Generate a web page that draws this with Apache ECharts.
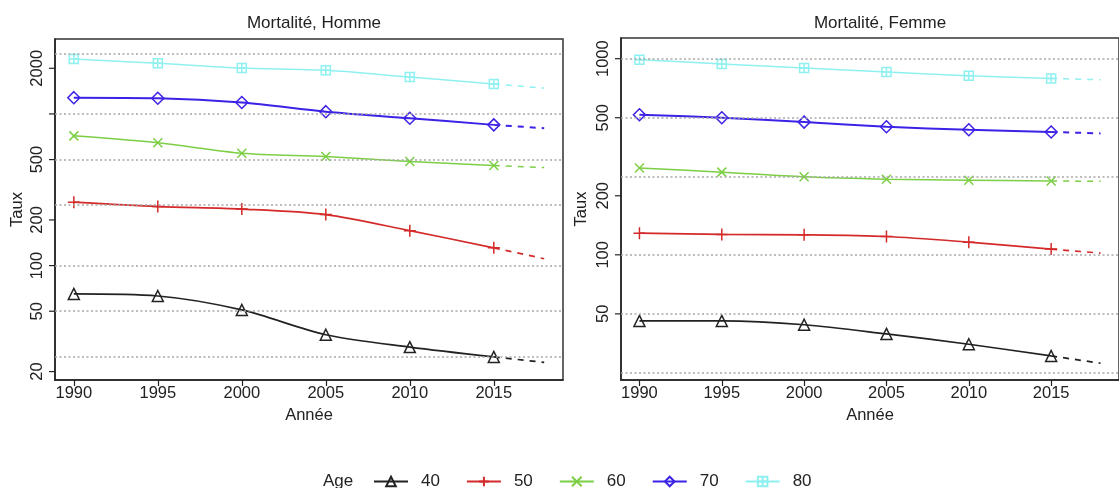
<!DOCTYPE html>
<html>
<head>
<meta charset="utf-8">
<script src="https://cdn.jsdelivr.net/npm/echarts@6/dist/echarts.min.js"></script>
<style>
html, body { margin: 0; padding: 0; background: #fff; }
#chart { width: 1119px; height: 488px; }
</style>
</head>
<body>
<div id="chart"></div>
<script>
// Observed years and the projection horizon
const years = [1990, 1995, 2000, 2005, 2010, 2015];
const projYear = 2018;
const ages = ['40', '50', '60', '70', '80'];

// Mortality rates, men (per age group)
const homme40 = [65, 63, 51, 35, 29, 25];
const homme50 = [262, 245, 236, 217, 170, 131];
const homme60 = [717, 645, 551, 524, 486, 457];
const homme70 = [1280, 1270, 1190, 1035, 937, 847];
const homme80 = [2300, 2160, 2010, 1940, 1750, 1575];
// Projected rates in 2018, men (ages 40..80)
const hommeProj = [23, 111, 443, 805, 1480];

// Mortality rates, women
const femme40 = [46, 46, 44, 39.5, 35, 30.5];
const femme50 = [129, 127, 126.5, 124, 116, 107];
const femme60 = [277, 264, 250, 243, 240, 238];
const femme70 = [518, 500, 475, 450, 434, 423];
const femme80 = [989, 940, 897, 855, 819, 793];
// Projected rates in 2018, women
const femmeProj = [28, 102, 237, 416, 781];

// Y-axis tick values and labels (log scale)
const hommeTicks = [20, 50, 100, 200, 500, 1000, 2000];
const hommeTickLabels = ['20', '50', '100', '200', '500', '', '2000'];
const femmeTicks = [50, 100, 200, 500, 1000];
const femmeTickLabels = ['50', '100', '200', '500', '1000'];

// Dotted reference levels
const refLevels = [25, 50, 100, 250, 500, 1000, 2500];

// Axis extents
const X_MIN = 1988.88, X_MAX = 2019.12;
const hommeRange = [17.6, 3120];
const femmeRange = [23.0, 1275];

const FONT = 'Liberation Sans, Arial, Helvetica, sans-serif';
const INK = '#222';
const colors = ['#222222', '#d42a2a', '#7ccf44', '#3b22e6', '#8ff0f0'];
const symbols = [
  'path://M5,0L10,9L0,9Z',
  'path://M5,0L5,10M0,5L10,5',
  'path://M0,0L10,10M0,10L10,0',
  'path://M5,0L10,5L5,10L0,5Z',
  'path://M0,0L10,0L10,10L0,10ZM5,0L5,10M0,5L10,5'
];
const symbolSizes = [11, 12, 9, 12, 9];
const lineWidths = [1.7, 1.7, 1.5, 2, 1.5];

const hommeSeries = [homme40, homme50, homme60, homme70, homme80];
const femmeSeries = [femme40, femme50, femme60, femme70, femme80];

function panelSeries(valuesList, proj, gi, range) {
  const out = [];
  valuesList.forEach((vals, k) => {
    const s = {
      name: ages[k], type: 'line', xAxisIndex: gi, yAxisIndex: gi,
      data: years.map((y, i) => [y, vals[i]]),
      smooth: 0.3,
      symbol: symbols[k], symbolSize: symbolSizes[k],
      lineStyle: { color: colors[k], width: lineWidths[k] },
      itemStyle: { color: 'transparent', borderColor: colors[k], borderWidth: 1.5 },
      z: 3
    };
    if (k === 0) {
      s.markLine = {
        silent: true, symbol: 'none', label: { show: false },
        lineStyle: { color: '#a8a8a8', type: [2, 2.5], width: 1.5 },
        emphasis: { disabled: true },
        data: refLevels.filter(v => v >= range[0] && v <= range[1]).map(v => ({ yAxis: v }))
      };
    }
    out.push(s);
    out.push({
      name: ages[k], type: 'line', xAxisIndex: gi, yAxisIndex: gi,
      data: [[years[years.length - 1], vals[vals.length - 1]], [projYear, proj[k]]],
      symbol: 'none',
      lineStyle: { color: colors[k], width: lineWidths[k], type: [6, 6] },
      z: 3
    });
  });
  return out;
}

function tickSeries(ticks, labels, gi) {
  return {
    type: 'custom', xAxisIndex: gi, yAxisIndex: gi, silent: true, z: 10, clip: false,
    data: ticks.map((v, i) => [X_MIN, v, i]),
    encode: { x: 0, y: 1 },
    renderItem: function (params, api) {
      const p = api.coord([api.value(0), api.value(1)]);
      const label = labels[api.value(2)];
      return {
        type: 'group',
        children: [
          { type: 'line', shape: { x1: p[0] - 6, y1: p[1], x2: p[0], y2: p[1] },
            style: { stroke: INK, lineWidth: 1.2 } },
          { type: 'text', x: p[0] - 9, y: p[1], rotation: Math.PI / 2,
            style: { text: label, fill: INK, fontSize: 16.5, fontFamily: FONT,
                     align: 'center', verticalAlign: 'bottom' } }
        ]
      };
    }
  };
}

function xAxis(gi) {
  return {
    type: 'value', gridIndex: gi, min: X_MIN, max: X_MAX,
    axisLine: { show: true, lineStyle: { color: INK, width: 1.5 } },
    axisTick: { show: true, length: 6, customValues: years, lineStyle: { color: INK, width: 1.2 } },
    axisLabel: { customValues: years, margin: 5, fontSize: 16.5, color: INK, fontFamily: FONT,
                 formatter: v => String(v) },
    splitLine: { show: false },
    name: 'Année', nameLocation: 'middle', nameGap: 22,
    nameTextStyle: { fontSize: 16.5, color: INK, fontFamily: FONT }
  };
}

function yAxis(gi, range, gap) {
  return {
    type: 'log', logBase: 10, gridIndex: gi, min: range[0], max: range[1],
    axisLine: { show: true, lineStyle: { color: INK, width: 1.5 } },
    axisTick: { show: false }, axisLabel: { show: false },
    splitLine: { show: false }, minorTick: { show: false },
    name: 'Taux', nameLocation: 'middle', nameGap: gap, nameRotate: 90,
    nameTextStyle: { fontSize: 16.5, color: INK, fontFamily: FONT }
  };
}

const chart = echarts.init(document.getElementById('chart'), null, { renderer: 'canvas' });
chart.setOption({
  animation: false,
  backgroundColor: '#fff',
  textStyle: { fontFamily: FONT },
  title: [
    { text: 'Mortalité, Homme', left: 309, top: 10, textAlign: 'center',
      textStyle: { fontSize: 17, fontWeight: 'normal', color: INK, fontFamily: FONT } },
    { text: 'Mortalité, Femme', left: 875, top: 10, textAlign: 'center',
      textStyle: { fontSize: 17, fontWeight: 'normal', color: INK, fontFamily: FONT } }
  ],
  grid: [
    { left: 55, top: 39, width: 508, height: 341, show: true, borderColor: '#333', borderWidth: 1.5 },
    { left: 621, top: 38, width: 508, height: 342, show: true, borderColor: '#333', borderWidth: 1.5 }
  ],
  xAxis: [xAxis(0), xAxis(1)],
  yAxis: [yAxis(0, hommeRange, 29), yAxis(1, femmeRange, 31)],
  legend: {
    data: ages, left: 368, top: 468, itemWidth: 34, itemHeight: 12, itemGap: 26,
    textStyle: { fontSize: 17, color: INK, fontFamily: FONT, padding: [0, 0, 0, 8] },
    selectedMode: false
  },
  graphic: [
    { type: 'text', x: 323, y: 481,
      style: { text: 'Age', fontSize: 17, fill: INK, fontFamily: FONT, verticalAlign: 'middle' } }
  ],
  series: [
    ...panelSeries(hommeSeries, hommeProj, 0, hommeRange),
    ...panelSeries(femmeSeries, femmeProj, 1, femmeRange),
    tickSeries(hommeTicks, hommeTickLabels, 0),
    tickSeries(femmeTicks, femmeTickLabels, 1)
  ]
});
</script>
</body>
</html>
